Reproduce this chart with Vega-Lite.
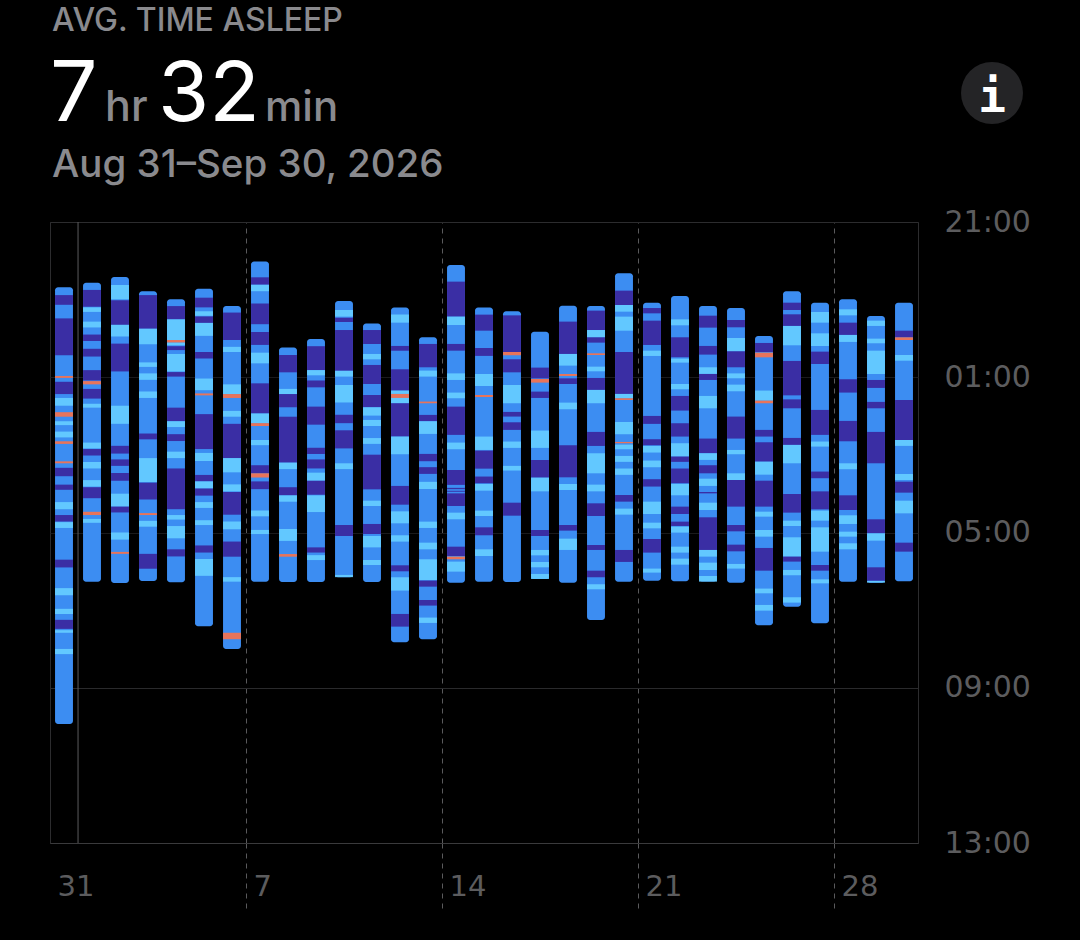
{
"$schema":"https://vega.github.io/schema/vega-lite/v6.json",
"width":868,"height":621,
"autosize":{"type":"none"},
"padding":{"left":50,"top":222,"right":162,"bottom":97},
"background":"#000000",
"view":{"stroke":"#2c2c2e","strokeWidth":1},
"config":{"font":"Inter"},
"datasets":{
"nights":[
{"day":"31","start":101,"end":776},{"day":"1","start":94,"end":556},{"day":"2","start":85,"end":558},{"day":"3","start":107,"end":555},{"day":"4","start":119.5,"end":557},{"day":"5","start":103,"end":625},{"day":"6","start":130,"end":660},{"day":"7","start":61,"end":556},{"day":"8","start":194,"end":556.6},{"day":"9","start":181,"end":556.6},
{"day":"10","start":122,"end":549},{"day":"11","start":157,"end":556.4},{"day":"12","start":132,"end":649.7},{"day":"13","start":178,"end":645},{"day":"14","start":66.5,"end":557.5},{"day":"15","start":132,"end":556},{"day":"16","start":138,"end":556.4},{"day":"17","start":169.5,"end":551.8},{"day":"18","start":129.3,"end":557.5},{"day":"19","start":130,"end":615.2},
{"day":"20","start":79.4,"end":556},{"day":"21","start":124.7,"end":554.4},{"day":"22","start":114.4,"end":555.4},{"day":"23","start":129.8,"end":555.9},{"day":"24","start":133,"end":557.5},{"day":"25","start":176.3,"end":623.4},{"day":"26","start":107.2,"end":594.6},{"day":"27","start":124.7,"end":620.4},{"day":"28","start":119.5,"end":556},{"day":"29","start":145.3,"end":557.5},{"day":"30","start":124.7,"end":555.4}
],
"stages":[
{"day":"31","stage":"Deep","start":113,"end":128},{"day":"31","stage":"Deep","start":149,"end":206},{"day":"31","stage":"Awake","start":238,"end":241},{"day":"31","stage":"Deep","start":247,"end":266},{"day":"31","stage":"REM","start":272,"end":284},{"day":"31","stage":"Awake","start":294,"end":301},{"day":"31","stage":"REM","start":308,"end":314},{"day":"31","stage":"REM","start":324,"end":333},{"day":"31","stage":"Awake","start":339,"end":343},{"day":"31","stage":"Awake","start":370,"end":373},{"day":"31","stage":"Deep","start":380,"end":393},{"day":"31","stage":"Deep","start":406,"end":414},{"day":"31","stage":"REM","start":433,"end":444},{"day":"31","stage":"Deep","start":453,"end":463},{"day":"31","stage":"REM","start":464,"end":473},{"day":"31","stage":"Deep","start":522,"end":534},{"day":"31","stage":"REM","start":566,"end":577},{"day":"31","stage":"REM","start":598,"end":606},{"day":"31","stage":"Deep","start":615,"end":629},{"day":"31","stage":"REM","start":631,"end":635},{"day":"31","stage":"REM","start":660,"end":668},
{"day":"1","stage":"Deep","start":105,"end":131},{"day":"1","stage":"REM","start":132,"end":139},{"day":"1","stage":"REM","start":154,"end":163},{"day":"1","stage":"Deep","start":174,"end":184},{"day":"1","stage":"Deep","start":196,"end":208},{"day":"1","stage":"Deep","start":229,"end":245},{"day":"1","stage":"Awake","start":246,"end":251},{"day":"1","stage":"Deep","start":258,"end":273},{"day":"1","stage":"REM","start":281,"end":287},{"day":"1","stage":"REM","start":341,"end":350},{"day":"1","stage":"Deep","start":351,"end":361},{"day":"1","stage":"REM","start":371,"end":381},{"day":"1","stage":"REM","start":399,"end":409},{"day":"1","stage":"Deep","start":410,"end":427},{"day":"1","stage":"Awake","start":448,"end":453},{"day":"1","stage":"REM","start":459,"end":465},
{"day":"2","stage":"REM","start":97.4,"end":119.5},{"day":"2","stage":"Deep","start":121,"end":159},{"day":"2","stage":"REM","start":159,"end":177},{"day":"2","stage":"Deep","start":188,"end":231},{"day":"2","stage":"REM","start":284,"end":312},{"day":"2","stage":"Deep","start":346,"end":358},{"day":"2","stage":"Deep","start":367,"end":377},{"day":"2","stage":"Deep","start":388,"end":400},{"day":"2","stage":"REM","start":420,"end":440},{"day":"2","stage":"Deep","start":440,"end":449},{"day":"2","stage":"REM","start":480,"end":491},{"day":"2","stage":"Awake","start":510,"end":513},
{"day":"3","stage":"Deep","start":113,"end":165},{"day":"3","stage":"REM","start":165,"end":189},{"day":"3","stage":"REM","start":217,"end":224},{"day":"3","stage":"REM","start":234,"end":244},{"day":"3","stage":"REM","start":262,"end":272},{"day":"3","stage":"Deep","start":327,"end":336},{"day":"3","stage":"REM","start":365,"end":402},{"day":"3","stage":"Deep","start":403,"end":429},{"day":"3","stage":"Awake","start":450,"end":453},{"day":"3","stage":"REM","start":462,"end":471},{"day":"3","stage":"Deep","start":513,"end":536},
{"day":"4","stage":"Deep","start":130,"end":150.5},{"day":"4","stage":"REM","start":150.5,"end":182.4},{"day":"4","stage":"Awake","start":182.4,"end":186.5},{"day":"4","stage":"REM","start":186.5,"end":190.6},{"day":"4","stage":"Deep","start":192,"end":198},{"day":"4","stage":"REM","start":204,"end":231},{"day":"4","stage":"Deep","start":232,"end":239},{"day":"4","stage":"Deep","start":287,"end":308},{"day":"4","stage":"REM","start":308,"end":317},{"day":"4","stage":"Deep","start":328,"end":338.6},{"day":"4","stage":"REM","start":355,"end":365},{"day":"4","stage":"Deep","start":381,"end":444},{"day":"4","stage":"REM","start":453,"end":460},{"day":"4","stage":"REM","start":470,"end":489},{"day":"4","stage":"Deep","start":506,"end":517},
{"day":"5","stage":"Deep","start":117,"end":132},{"day":"5","stage":"REM","start":138,"end":145},{"day":"5","stage":"Deep","start":146,"end":156},{"day":"5","stage":"REM","start":156,"end":176},{"day":"5","stage":"Deep","start":201,"end":211},{"day":"5","stage":"REM","start":242,"end":260},{"day":"5","stage":"Awake","start":265,"end":268},{"day":"5","stage":"Deep","start":297,"end":351},{"day":"5","stage":"REM","start":357,"end":369.5},{"day":"5","stage":"Deep","start":391,"end":401},{"day":"5","stage":"REM","start":401,"end":412},{"day":"5","stage":"Deep","start":412,"end":423},{"day":"5","stage":"REM","start":433,"end":442},{"day":"5","stage":"REM","start":461,"end":468.5},{"day":"5","stage":"Deep","start":500,"end":511},{"day":"5","stage":"REM","start":521,"end":547},
{"day":"6","stage":"Deep","start":140,"end":182.4},{"day":"6","stage":"REM","start":193,"end":201},{"day":"6","stage":"REM","start":251,"end":266},{"day":"6","stage":"Awake","start":266,"end":272},{"day":"6","stage":"REM","start":292,"end":301},{"day":"6","stage":"Deep","start":312,"end":365},{"day":"6","stage":"REM","start":365,"end":387},{"day":"6","stage":"REM","start":405.6,"end":416.4},{"day":"6","stage":"Deep","start":417.4,"end":452.5},{"day":"6","stage":"REM","start":463,"end":475},{"day":"6","stage":"Deep","start":494,"end":517.4},{"day":"6","stage":"REM","start":549,"end":556},{"day":"6","stage":"Awake","start":635,"end":645},
{"day":"7","stage":"Deep","start":85.5,"end":97},{"day":"7","stage":"REM","start":97,"end":107},{"day":"7","stage":"Deep","start":126,"end":158},{"day":"7","stage":"Deep","start":170,"end":190},{"day":"7","stage":"REM","start":202,"end":218.5},{"day":"7","stage":"Deep","start":249.4,"end":296},{"day":"7","stage":"REM","start":296,"end":311},{"day":"7","stage":"Awake","start":311,"end":315.4},{"day":"7","stage":"REM","start":337,"end":345},{"day":"7","stage":"Deep","start":376,"end":388.5},{"day":"7","stage":"Awake","start":388.5,"end":395},{"day":"7","stage":"Deep","start":401,"end":413},{"day":"7","stage":"REM","start":446,"end":455},{"day":"7","stage":"REM","start":476,"end":482.4},
{"day":"8","stage":"Deep","start":205.6,"end":232.4},{"day":"8","stage":"REM","start":258,"end":266},{"day":"8","stage":"Deep","start":266,"end":286.4},{"day":"8","stage":"Deep","start":301,"end":372},{"day":"8","stage":"REM","start":372,"end":382},{"day":"8","stage":"Deep","start":410,"end":422.6},{"day":"8","stage":"REM","start":422.6,"end":432.4},{"day":"8","stage":"REM","start":474.6,"end":493},{"day":"8","stage":"Awake","start":513.3,"end":517.4},
{"day":"9","stage":"Deep","start":192,"end":229},{"day":"9","stage":"REM","start":229,"end":237},{"day":"9","stage":"Deep","start":245,"end":255.6},{"day":"9","stage":"Deep","start":285.4,"end":313.3},{"day":"9","stage":"Deep","start":349,"end":358.6},{"day":"9","stage":"Deep","start":367,"end":381},{"day":"9","stage":"REM","start":387.5,"end":400},{"day":"9","stage":"Deep","start":400,"end":421.6},{"day":"9","stage":"REM","start":422.6,"end":448.4},{"day":"9","stage":"Deep","start":503,"end":511},{"day":"9","stage":"REM","start":515,"end":522.6},
{"day":"10","stage":"REM","start":136,"end":146.3},{"day":"10","stage":"Deep","start":148,"end":154.6},{"day":"10","stage":"Deep","start":167,"end":230},{"day":"10","stage":"REM","start":230,"end":239},{"day":"10","stage":"REM","start":252,"end":279},{"day":"10","stage":"Deep","start":298,"end":311},{"day":"10","stage":"Deep","start":322,"end":350},{"day":"10","stage":"REM","start":373,"end":382},{"day":"10","stage":"Deep","start":468.4,"end":485.4},{"day":"10","stage":"REM","start":545.6,"end":549},
{"day":"11","stage":"Deep","start":167,"end":188.6},{"day":"11","stage":"REM","start":204,"end":212.3},{"day":"11","stage":"Deep","start":221,"end":250.4},{"day":"11","stage":"Deep","start":267.4,"end":286.4},{"day":"11","stage":"REM","start":286.4,"end":299.3},{"day":"11","stage":"REM","start":306,"end":315.4},{"day":"11","stage":"REM","start":334,"end":343},{"day":"11","stage":"Deep","start":359.7,"end":413.3},{"day":"11","stage":"REM","start":430.8,"end":439},{"day":"11","stage":"Deep","start":466.8,"end":482.3},{"day":"11","stage":"REM","start":485.4,"end":503},{"day":"11","stage":"REM","start":522.5,"end":530.2},
{"day":"12","stage":"REM","start":143,"end":155.6},{"day":"12","stage":"Deep","start":191.6,"end":199},{"day":"12","stage":"Deep","start":227.7,"end":260.6},{"day":"12","stage":"REM","start":260.6,"end":265.8},{"day":"12","stage":"Awake","start":265.8,"end":272},{"day":"12","stage":"REM","start":272,"end":280.2},{"day":"12","stage":"Deep","start":280.2,"end":331.7},{"day":"12","stage":"REM","start":331.7,"end":359},{"day":"12","stage":"Deep","start":408,"end":437},{"day":"12","stage":"REM","start":447.3,"end":465.8},{"day":"12","stage":"REM","start":484.3,"end":494.1},{"day":"12","stage":"Deep","start":530.7,"end":540},{"day":"12","stage":"REM","start":549.2,"end":569.8},{"day":"12","stage":"Deep","start":605.9,"end":625.5},
{"day":"13","stage":"Deep","start":188.5,"end":224.6},{"day":"13","stage":"REM","start":229.7,"end":239},{"day":"13","stage":"Awake","start":277.6,"end":280.2},{"day":"13","stage":"Deep","start":298.2,"end":308},{"day":"13","stage":"REM","start":308,"end":327.6},{"day":"13","stage":"Deep","start":358.5,"end":369.8},{"day":"13","stage":"Deep","start":379,"end":389.4},{"day":"13","stage":"REM","start":401.7,"end":412.8},{"day":"13","stage":"REM","start":463.2,"end":473},{"day":"13","stage":"REM","start":495.7,"end":506},{"day":"13","stage":"REM","start":521.4,"end":553.4},{"day":"13","stage":"Deep","start":554.4,"end":563.7},{"day":"13","stage":"Deep","start":584.3,"end":593},{"day":"13","stage":"REM","start":611.5,"end":619.8},
{"day":"14","stage":"Deep","start":92.2,"end":146.3},{"day":"14","stage":"REM","start":146.3,"end":159.2},{"day":"14","stage":"Deep","start":188.5,"end":198.9},{"day":"14","stage":"REM","start":234,"end":244.2},{"day":"14","stage":"REM","start":263.7,"end":272.5},{"day":"14","stage":"Deep","start":285.4,"end":329.1},{"day":"14","stage":"REM","start":341,"end":351.3},{"day":"14","stage":"Deep","start":383.4,"end":406.4},{"day":"14","stage":"Deep","start":411,"end":413},{"day":"14","stage":"Deep","start":415.5,"end":417},{"day":"14","stage":"Deep","start":419.5,"end":439},{"day":"14","stage":"REM","start":449.3,"end":459.6},{"day":"14","stage":"Deep","start":501.9,"end":516.3},{"day":"14","stage":"Awake","start":517.3,"end":521.4},{"day":"14","stage":"REM","start":525,"end":540.5},
{"day":"15","stage":"Deep","start":143.2,"end":168},{"day":"15","stage":"Deep","start":194.8,"end":207},{"day":"15","stage":"REM","start":235,"end":253.5},{"day":"15","stage":"Awake","start":267.4,"end":270.5},{"day":"15","stage":"REM","start":331.7,"end":352.4},{"day":"15","stage":"Deep","start":353.4,"end":381.3},{"day":"15","stage":"Deep","start":393.5,"end":403.8},{"day":"15","stage":"REM","start":405,"end":415.3},{"day":"15","stage":"REM","start":446.2,"end":454.5},{"day":"15","stage":"Deep","start":472,"end":484.3},{"day":"15","stage":"REM","start":506,"end":516.3},
{"day":"16","stage":"Deep","start":144.3,"end":201},{"day":"16","stage":"Awake","start":201,"end":206},{"day":"16","stage":"Deep","start":212.2,"end":232.4},{"day":"16","stage":"REM","start":252,"end":280.2},{"day":"16","stage":"Deep","start":293.6,"end":300.8},{"day":"16","stage":"Deep","start":309.6,"end":321.4},{"day":"16","stage":"REM","start":339.4,"end":349.2},{"day":"16","stage":"REM","start":377,"end":384.2},{"day":"16","stage":"Deep","start":433.9,"end":454},
{"day":"17","stage":"Deep","start":225.1,"end":241.7},{"day":"17","stage":"Awake","start":242.7,"end":248.3},{"day":"17","stage":"Deep","start":262.2,"end":272},{"day":"17","stage":"REM","start":322.4,"end":349.2},{"day":"17","stage":"Deep","start":367.9,"end":395.2},{"day":"17","stage":"REM","start":395.2,"end":416.4},{"day":"17","stage":"Deep","start":476.1,"end":485.4},{"day":"17","stage":"REM","start":507,"end":515.3},{"day":"17","stage":"REM","start":525.6,"end":533.8},{"day":"17","stage":"REM","start":544.1,"end":551.8},
{"day":"18","stage":"Deep","start":154,"end":204},{"day":"18","stage":"REM","start":204,"end":222},{"day":"18","stage":"Awake","start":235,"end":238},{"day":"18","stage":"Deep","start":241.7,"end":250.4},{"day":"18","stage":"REM","start":279.2,"end":289.5},{"day":"18","stage":"Deep","start":345.1,"end":394.7},{"day":"18","stage":"REM","start":405,"end":414.3},{"day":"18","stage":"Deep","start":468.4,"end":477.1},{"day":"18","stage":"REM","start":489.5,"end":507},
{"day":"19","stage":"Deep","start":137,"end":167},{"day":"19","stage":"REM","start":167,"end":178.3},{"day":"19","stage":"Deep","start":178.3,"end":186.5},{"day":"19","stage":"Awake","start":203,"end":205.6},{"day":"19","stage":"REM","start":223.6,"end":230.8},{"day":"19","stage":"Deep","start":241.1,"end":259.6},{"day":"19","stage":"REM","start":259.6,"end":280.2},{"day":"19","stage":"Deep","start":324.5,"end":346.2},{"day":"19","stage":"REM","start":357.5,"end":388.5},{"day":"19","stage":"REM","start":406,"end":416.4},{"day":"19","stage":"Deep","start":434.9,"end":454.5},{"day":"19","stage":"Deep","start":499.3,"end":507},{"day":"19","stage":"Deep","start":539,"end":549.2},{"day":"19","stage":"REM","start":560,"end":567.8},
{"day":"20","stage":"Deep","start":106.1,"end":128.3},{"day":"20","stage":"REM","start":128.3,"end":138.6},{"day":"20","stage":"REM","start":146.3,"end":168},{"day":"20","stage":"Deep","start":201,"end":265.8},{"day":"20","stage":"REM","start":265.8,"end":272.5},{"day":"20","stage":"Awake","start":272.5,"end":275.1},{"day":"20","stage":"REM","start":309.2,"end":328.1},{"day":"20","stage":"Awake","start":340,"end":342},{"day":"20","stage":"REM","start":344.1,"end":351.3},{"day":"20","stage":"REM","start":361.6,"end":370.8},{"day":"20","stage":"REM","start":381.1,"end":390.9},{"day":"20","stage":"Deep","start":422,"end":432.3},{"day":"20","stage":"REM","start":443.1,"end":452.4},{"day":"20","stage":"Deep","start":507,"end":525.5},
{"day":"21","stage":"Deep","start":133,"end":141.2},{"day":"21","stage":"Deep","start":152.5,"end":190.1},{"day":"21","stage":"REM","start":198.9,"end":207.1},{"day":"21","stage":"Deep","start":299.8,"end":312.1},{"day":"21","stage":"Deep","start":335.8,"end":345.1},{"day":"21","stage":"REM","start":346.2,"end":356.4},{"day":"21","stage":"REM","start":368.8,"end":379.1},{"day":"21","stage":"Deep","start":397.6,"end":409},{"day":"21","stage":"REM","start":432.3,"end":451.4},{"day":"21","stage":"REM","start":464.8,"end":473.6},{"day":"21","stage":"Deep","start":490,"end":511.1},{"day":"21","stage":"REM","start":535.8,"end":542},
{"day":"22","stage":"REM","start":150.5,"end":159.7},{"day":"22","stage":"Deep","start":178.2,"end":209.1},{"day":"22","stage":"REM","start":211.2,"end":217.4},{"day":"22","stage":"REM","start":250.4,"end":258.6},{"day":"22","stage":"Deep","start":268.9,"end":291.5},{"day":"22","stage":"Deep","start":311.1,"end":331.7},{"day":"22","stage":"REM","start":342,"end":362.6},{"day":"22","stage":"Deep","start":362.6,"end":370.8},{"day":"22","stage":"Deep","start":381.1,"end":403.8},{"day":"22","stage":"REM","start":404.9,"end":422.5},{"day":"22","stage":"Deep","start":440,"end":451.4},{"day":"22","stage":"Deep","start":463.2,"end":469.9},{"day":"22","stage":"REM","start":471,"end":480.2},{"day":"22","stage":"REM","start":501.9,"end":511.1},{"day":"22","stage":"REM","start":520.4,"end":529.7},
{"day":"23","stage":"Deep","start":144.8,"end":163.3},{"day":"23","stage":"Deep","start":191.6,"end":205},{"day":"23","stage":"REM","start":224.6,"end":234.9},{"day":"23","stage":"Deep","start":234.9,"end":244.2},{"day":"23","stage":"REM","start":268.9,"end":288},{"day":"23","stage":"Deep","start":334.8,"end":357.5},{"day":"23","stage":"REM","start":357.5,"end":367.8},{"day":"23","stage":"Deep","start":376,"end":388.5},{"day":"23","stage":"REM","start":396.8,"end":408},{"day":"23","stage":"Deep","start":417.4,"end":419.5},{"day":"23","stage":"REM","start":433.9,"end":445.2},{"day":"23","stage":"Deep","start":456.5,"end":507},{"day":"23","stage":"REM","start":507,"end":517.3},{"day":"23","stage":"REM","start":526.6,"end":538},{"day":"23","stage":"REM","start":547.2,"end":555.9},
{"day":"24","stage":"Deep","start":151.5,"end":162.8},{"day":"24","stage":"REM","start":179.3,"end":199.9},{"day":"24","stage":"Deep","start":199.9,"end":224.6},{"day":"24","stage":"REM","start":234,"end":241.6},{"day":"24","stage":"REM","start":251.4,"end":261.7},{"day":"24","stage":"Deep","start":300.8,"end":334.8},{"day":"24","stage":"REM","start":352.4,"end":359},{"day":"24","stage":"REM","start":388.5,"end":398.8},{"day":"24","stage":"Deep","start":398.8,"end":440},{"day":"24","stage":"Deep","start":468.4,"end":478.2},{"day":"24","stage":"Deep","start":498.8,"end":509.1},{"day":"24","stage":"REM","start":528.6,"end":535.8},
{"day":"25","stage":"Deep","start":187,"end":201},{"day":"25","stage":"Awake","start":202,"end":209.2},{"day":"25","stage":"REM","start":260.6,"end":276.2},{"day":"25","stage":"Awake","start":276.2,"end":280.2},{"day":"25","stage":"Deep","start":321.4,"end":331.7},{"day":"25","stage":"Deep","start":340.5,"end":370.5},{"day":"25","stage":"REM","start":370.5,"end":390.6},{"day":"25","stage":"Deep","start":399.9,"end":440},{"day":"25","stage":"REM","start":447.8,"end":455.5},{"day":"25","stage":"REM","start":476.1,"end":486.4},{"day":"25","stage":"Deep","start":503.9,"end":539},{"day":"25","stage":"REM","start":566.7,"end":574},{"day":"25","stage":"REM","start":592,"end":600.8},
{"day":"26","stage":"Deep","start":124.7,"end":136},{"day":"26","stage":"Deep","start":142.7,"end":160.7},{"day":"26","stage":"REM","start":160.7,"end":190.6},{"day":"26","stage":"Deep","start":214.8,"end":268},{"day":"26","stage":"Deep","start":274.2,"end":288},{"day":"26","stage":"Deep","start":333.8,"end":344.6},{"day":"26","stage":"REM","start":344.6,"end":373},{"day":"26","stage":"Deep","start":420.5,"end":449.3},{"day":"26","stage":"REM","start":461.7,"end":470},{"day":"26","stage":"REM","start":487.4,"end":517.3},{"day":"26","stage":"Deep","start":517.3,"end":525},{"day":"26","stage":"REM","start":537.9,"end":546.1},{"day":"26","stage":"REM","start":580.1,"end":588.4},
{"day":"27","stage":"REM","start":139.1,"end":155.6},{"day":"27","stage":"REM","start":172.1,"end":191.7},{"day":"27","stage":"Deep","start":200.4,"end":219.5},{"day":"27","stage":"Deep","start":290.5,"end":329.1},{"day":"27","stage":"REM","start":339.4,"end":347.2},{"day":"27","stage":"Deep","start":385.8,"end":396.1},{"day":"27","stage":"Deep","start":416.4,"end":444.2},{"day":"27","stage":"REM","start":446.2,"end":461.7},{"day":"27","stage":"REM","start":472,"end":509.6},{"day":"27","stage":"Deep","start":530.2,"end":539},{"day":"27","stage":"REM","start":552.4,"end":558.6},
{"day":"28","stage":"REM","start":135,"end":144.3},{"day":"28","stage":"Deep","start":155.6,"end":174.6},{"day":"28","stage":"REM","start":174.6,"end":185.4},{"day":"28","stage":"Deep","start":243.1,"end":263.7},{"day":"28","stage":"Deep","start":307.5,"end":339},{"day":"28","stage":"REM","start":373,"end":382.2},{"day":"28","stage":"Deep","start":422.5,"end":445.2},{"day":"28","stage":"REM","start":453.4,"end":466.8},{"day":"28","stage":"REM","start":478.7,"end":486.4},{"day":"28","stage":"REM","start":496.7,"end":506},
{"day":"29","stage":"REM","start":152.5,"end":160.7},{"day":"29","stage":"REM","start":180.3,"end":187.5},{"day":"29","stage":"REM","start":198.9,"end":235},{"day":"29","stage":"Deep","start":244.2,"end":256.5},{"day":"29","stage":"Deep","start":278.1,"end":288},{"day":"29","stage":"Deep","start":324.5,"end":373},{"day":"29","stage":"Deep","start":459.6,"end":481.3},{"day":"29","stage":"REM","start":481.3,"end":492.6},{"day":"29","stage":"Deep","start":533.8,"end":554.4},{"day":"29","stage":"REM","start":555,"end":557.5},
{"day":"30","stage":"Deep","start":168,"end":178.3},{"day":"30","stage":"Awake","start":178.3,"end":182.4},{"day":"30","stage":"REM","start":205.6,"end":214.4},{"day":"30","stage":"Deep","start":275.2,"end":337},{"day":"30","stage":"REM","start":337,"end":346.1},{"day":"30","stage":"REM","start":389.6,"end":398.8},{"day":"30","stage":"Deep","start":401.4,"end":418.4},{"day":"30","stage":"REM","start":430.8,"end":450.4},{"day":"30","stage":"Deep","start":495.7,"end":509.6}
]
},
"layer":[
{"data":{"name":"nights"},
 "mark":{"type":"bar","color":"#3C8DF2","cornerRadius":3},
 "encoding":{
  "x":{"field":"day","type":"ordinal","sort":null,
   "scale":{"domain":["31","1","2","3","4","5","6","7","8","9","10","11","12","13","14","15","16","17","18","19","20","21","22","23","24","25","26","27","28","29","30"],"paddingInner":0.36,"paddingOuter":0.18},
   "axis":{"title":null,"values":["31","7","14","21","28"],"bandPosition":0,"tickOffset":-5,"labelAngle":0,"labelAlign":"left","labelBaseline":"top","labelOffset":-2,"labelPadding":-36,"labelFont":"DejaVu Sans","labelFontSize":29,"labelColor":"#5c5c5e",
    "domainColor":"#3a3a3c","tickSize":65,"tickWidth":1,"tickDash":[5,5],"tickColor":{"expr":"datum.value=='31'?'transparent':'#5a5a5c'"},
    "grid":true,"gridDash":[5,5],"gridColor":{"expr":"datum.value=='31'?'transparent':'#5a5a5c'"}}},
  "y":{"field":"start","type":"quantitative",
   "scale":{"domain":[0,960],"reverse":true,"nice":false,"zero":false},
   "axis":{"title":null,"orient":"right","values":[0,240,480,720,960],"labelExpr":"format((21+datum.value/60)%24,'02d')+':00'","labelFont":"DejaVu Sans","labelFontSize":30,"labelColor":"#5c5c5e","labelPadding":26,"ticks":false,"domain":false,"grid":true,"gridColor":{"expr":"datum.value==720?'#2a2a2c':(datum.value==0||datum.value==960?'#2c2c2e':'#1a1a1c')"},"labelBound":false,"labelFlush":false}},
  "y2":{"field":"end"}}},
{"data":{"name":"stages"},
 "mark":{"type":"bar"},
 "encoding":{
  "x":{"field":"day","type":"ordinal","sort":null},
  "y":{"field":"start","type":"quantitative"},
  "y2":{"field":"end"},
  "color":{"field":"stage","type":"nominal","legend":null,
   "scale":{"domain":["Deep","REM","Awake"],"range":["#3A2EA4","#62C8FF","#E8745A"]}}}},
{"data":{"values":[{"day":"1"}]},
 "mark":{"type":"rule","color":"#5a5a5c","strokeWidth":1,"xOffset":-5},
 "encoding":{"x":{"field":"day","type":"ordinal","bandPosition":0,"sort":null}}},
{"data":{"values":[{"label":"AVG. TIME ASLEEP"}]},
 "mark":{"type":"text","align":"left","baseline":"alphabetic","dx":-3,"dy":-191,"fontSize":32,"fontWeight":500,"font":"Inter","color":"#8a8a8e"},
 "encoding":{"x":{"datum":"31","type":"ordinal","bandPosition":0},"y":{"datum":0,"type":"quantitative"},"text":{"field":"label"}}},
{"data":{"values":[{"label":"7"}]},
 "mark":{"type":"text","align":"left","baseline":"alphabetic","dx":-5,"dy":-101,"fontSize":84,"fontWeight":400,"font":"Inter","color":"#ffffff"},
 "encoding":{"x":{"datum":"31","type":"ordinal","bandPosition":0},"y":{"datum":0,"type":"quantitative"},"text":{"field":"label"}}},
{"data":{"values":[{"label":"hr"}]},
 "mark":{"type":"text","align":"left","baseline":"alphabetic","dx":50,"dy":-101,"fontSize":43,"fontWeight":500,"font":"Inter","color":"#8a8a8e"},
 "encoding":{"x":{"datum":"31","type":"ordinal","bandPosition":0},"y":{"datum":0,"type":"quantitative"},"text":{"field":"label"}}},
{"data":{"values":[{"label":"32"}]},
 "mark":{"type":"text","align":"left","baseline":"alphabetic","dx":103,"dy":-101,"fontSize":83,"fontWeight":400,"font":"Inter","color":"#ffffff"},
 "encoding":{"x":{"datum":"31","type":"ordinal","bandPosition":0},"y":{"datum":0,"type":"quantitative"},"text":{"field":"label"}}},
{"data":{"values":[{"label":"min"}]},
 "mark":{"type":"text","align":"left","baseline":"alphabetic","dx":210,"dy":-101,"fontSize":42,"fontWeight":500,"font":"Inter","color":"#8a8a8e"},
 "encoding":{"x":{"datum":"31","type":"ordinal","bandPosition":0},"y":{"datum":0,"type":"quantitative"},"text":{"field":"label"}}},
{"data":{"values":[{"label":"Aug 31–Sep 30, 2026"}]},
 "mark":{"type":"text","align":"left","baseline":"alphabetic","dx":-3,"dy":-45,"fontSize":38.5,"fontWeight":500,"font":"Inter","color":"#8a8a8e"},
 "encoding":{"x":{"datum":"31","type":"ordinal","bandPosition":0},"y":{"datum":0,"type":"quantitative"},"text":{"field":"label"}}},
{"data":{"values":[{"label":"info"}]},
 "mark":{"type":"circle","color":"#242426","opacity":1,"size":3844,"xOffset":88,"yOffset":-129},
 "encoding":{"x":{"datum":"30","type":"ordinal"},"y":{"datum":0,"type":"quantitative"}}},
{"data":{"values":[{"label":"i"}]},
 "mark":{"type":"text","align":"center","baseline":"alphabetic","dx":88,"dy":-110,"fontSize":46,"fontWeight":"bold","font":"DejaVu Sans Mono","color":"#ffffff"},
 "encoding":{"x":{"datum":"30","type":"ordinal"},"y":{"datum":0,"type":"quantitative"},"text":{"field":"label"}}}
]
}
